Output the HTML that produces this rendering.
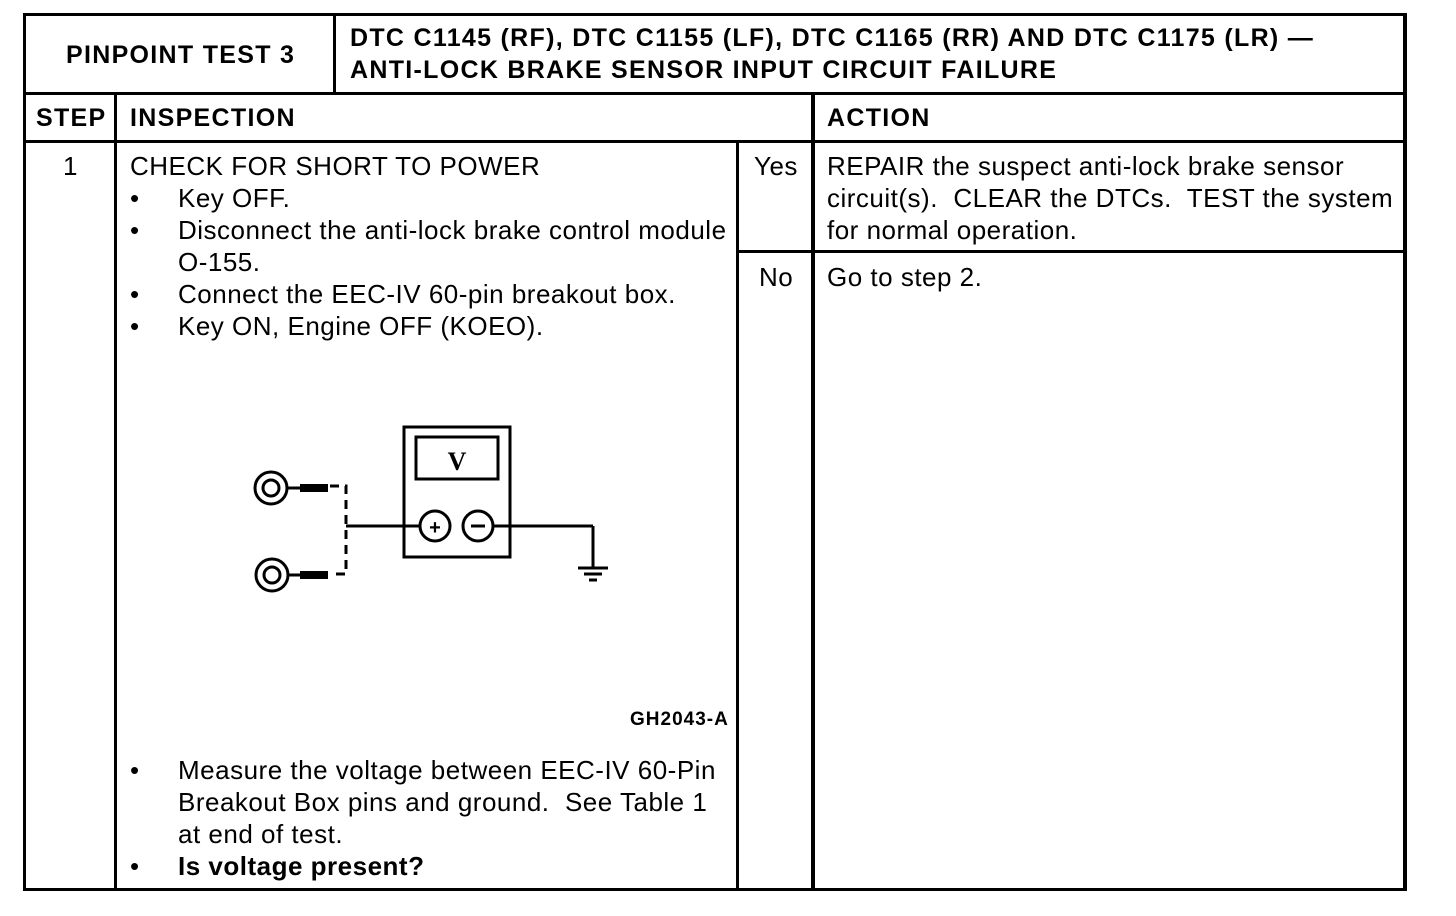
<!DOCTYPE html>
<html><head><meta charset="utf-8"><style>
body{margin:0;width:1456px;height:916px;background:#fff;position:relative;overflow:hidden;font-family:"Liberation Sans",Arial,sans-serif;color:#000}
.l{position:absolute;background:#000}
.t{position:absolute;white-space:nowrap;font-size:26px;letter-spacing:0.5px;line-height:32px}
.h{font-weight:bold;font-size:25px;letter-spacing:1.3px}
.b{font-weight:bold}
</style></head><body>
<div class="l" style="left:23px;top:13px;width:1384px;height:3px"></div>
<div class="l" style="left:23px;top:13px;width:3px;height:878px"></div>
<div class="l" style="left:1403px;top:13px;width:4px;height:878px"></div>
<div class="l" style="left:23px;top:888px;width:1384px;height:3px"></div>
<div class="l" style="left:23px;top:92px;width:1384px;height:3px"></div>
<div class="l" style="left:333px;top:13px;width:3px;height:81px"></div>
<div class="l" style="left:23px;top:140px;width:1384px;height:3px"></div>
<div class="l" style="left:114px;top:92px;width:3px;height:798px"></div>
<div class="l" style="left:811px;top:92px;width:4px;height:798px"></div>
<div class="l" style="left:736px;top:140px;width:3px;height:750px"></div>
<div class="l" style="left:736px;top:250px;width:670px;height:3px"></div>

<div class="t h" style="left:66px;top:39px">PINPOINT TEST 3</div>
<div class="t h" style="left:350px;top:22px">DTC C1145 (RF), DTC C1155 (LF), DTC C1165 (RR) AND DTC C1175 (LR) —<br>ANTI-LOCK BRAKE SENSOR INPUT CIRCUIT FAILURE</div>
<div class="t h" style="left:36px;top:102px">STEP</div>
<div class="t h" style="left:130px;top:102px">INSPECTION</div>
<div class="t h" style="left:827px;top:102px">ACTION</div>

<div class="t" style="left:63px;top:150px">1</div>
<div class="t" style="left:130px;top:150px">CHECK FOR SHORT TO POWER</div>
<div class="t" style="left:130px;top:182px">•</div><div class="t" style="left:178px;top:182px">Key OFF.</div>
<div class="t" style="left:130px;top:214px">•</div><div class="t" style="left:178px;top:214px">Disconnect the anti-lock brake control module</div>
<div class="t" style="left:178px;top:246px">O-155.</div>
<div class="t" style="left:130px;top:278px">•</div><div class="t" style="left:178px;top:278px">Connect the EEC-IV 60-pin breakout box.</div>
<div class="t" style="left:130px;top:310px">•</div><div class="t" style="left:178px;top:310px">Key ON, Engine OFF (KOEO).</div>

<div class="t b" style="left:630px;top:704px;font-size:19px;letter-spacing:1px">GH2043-A</div>

<div class="t" style="left:130px;top:754px">•</div><div class="t" style="left:178px;top:754px">Measure the voltage between EEC-IV 60-Pin</div>
<div class="t" style="left:178px;top:786px">Breakout Box pins and ground.&nbsp; See Table 1</div>
<div class="t" style="left:178px;top:818px">at end of test.</div>
<div class="t" style="left:130px;top:850px">•</div><div class="t b" style="left:178px;top:850px">Is voltage present?</div>

<div class="t" style="left:754px;top:150px">Yes</div>
<div class="t" style="left:759px;top:261px">No</div>
<div class="t" style="left:827px;top:150px">REPAIR the suspect anti-lock brake sensor<br>circuit(s).&nbsp; CLEAR the DTCs.&nbsp; TEST the system<br>for normal operation.</div>
<div class="t" style="left:827px;top:261px">Go to step 2.</div>

<svg style="position:absolute;left:0;top:0" width="1456" height="916">
<g fill="none" stroke="#000" stroke-width="3">
<circle cx="271" cy="488" r="16"/><circle cx="271" cy="488" r="8"/>
<circle cx="272" cy="575" r="16"/><circle cx="272" cy="575" r="8"/>
<line x1="287" y1="488" x2="302" y2="488"/>
<line x1="288" y1="575" x2="302" y2="575"/>
<path d="M330 486 H346 V574 H330" stroke-dasharray="9,6"/>
<line x1="346" y1="526" x2="420" y2="526"/>
<rect x="404" y="427" width="106" height="130"/>
<rect x="416" y="437" width="82" height="42"/>
<circle cx="435" cy="526" r="15"/><circle cx="478" cy="526" r="15"/>
<line x1="493" y1="526" x2="593" y2="526"/>
<line x1="593" y1="526" x2="593" y2="567"/>
<line x1="578" y1="568" x2="608" y2="568"/>
<line x1="584" y1="574" x2="602" y2="574"/>
<line x1="589" y1="580" x2="597" y2="580"/>
</g>
<rect x="300" y="484" width="28" height="8"/>
<rect x="300" y="571" width="28" height="8"/>
<text x="457" y="470" font-family="Liberation Serif" font-weight="bold" font-size="26" text-anchor="middle">V</text>
<text x="435" y="534" font-family="Liberation Sans" font-weight="bold" font-size="20" text-anchor="middle">+</text>
<line x1="471" y1="526" x2="485" y2="526" stroke="#000" stroke-width="3"/>
</svg>
</body></html>
